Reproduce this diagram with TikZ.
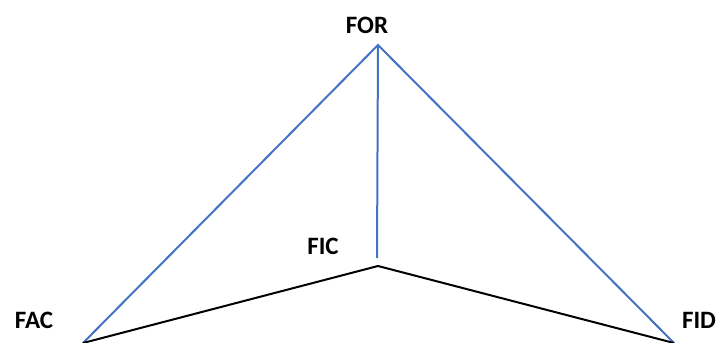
\documentclass[tikz,border=0pt]{standalone}
\usepackage{fontspec}
\setmainfont{Carlito}
\definecolor{lineblue}{HTML}{4472C4}
\begin{document}
\begin{tikzpicture}[x=1pt,y=-1pt,
  lbl/.style={font=\fontsize{25}{28}\selectfont\bfseries, inner sep=0pt, text=black},
  bl/.style={draw=lineblue, line width=2pt},
  bk/.style={draw=black, line width=2pt}]
\useasboundingbox (0,0) rectangle (721,343);
\coordinate (top) at (378,45);
\coordinate (vbot) at (377,258);
\coordinate (mid) at (378,266);
\coordinate (left) at (83,343);
\coordinate (right) at (674,343);
\node[lbl] (FOR) at (367,25) {FOR};
\node[lbl] (FIC) at (323,246) {FIC};
\node[lbl] (FAC) at (34,320) {FAC};
\node[lbl] (FID) at (699,320) {FID};
\draw[bl] (left) -- (top) -- (right);
\draw[bl] (top) -- (vbot);
\draw[bk] (left) -- (mid) -- (right);
\end{tikzpicture}
\end{document}
